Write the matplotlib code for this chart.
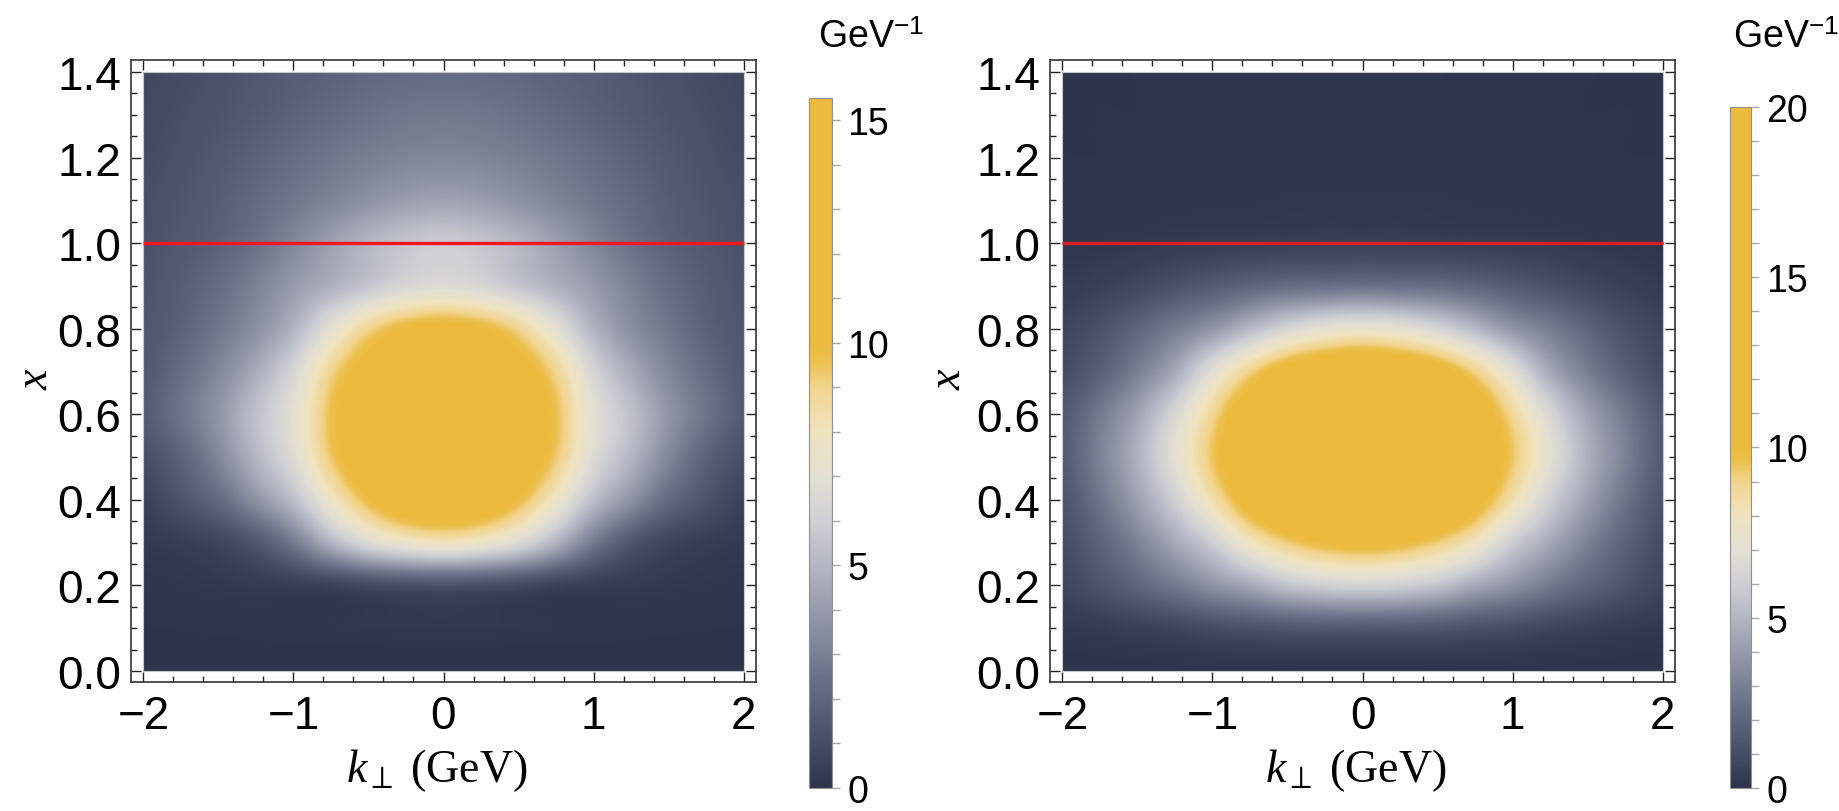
import numpy as np
import matplotlib
matplotlib.use("Agg")
import matplotlib.pyplot as plt
from matplotlib.colors import LinearSegmentedColormap, Normalize
from matplotlib.patches import Rectangle
from matplotlib.ticker import MultipleLocator

plt.rcParams['font.family'] = ['Liberation Sans', 'DejaVu Sans']
plt.rcParams['mathtext.fontset'] = 'custom'
plt.rcParams['mathtext.rm'] = 'Liberation Sans'
plt.rcParams['mathtext.it'] = 'Liberation Serif:italic'

# ---------------- data ----------------
# k_perp nodes (k >= 0, the maps are symmetric in k) and x nodes
k_half = [0.0, 0.25, 0.5, 0.75, 1.0, 1.25, 1.5, 1.75, 2.0]
x_nodes = [0.0, 0.1, 0.2, 0.3, 0.4, 0.5, 0.6, 0.7, 0.8, 0.9, 1.0, 1.1, 1.2, 1.3, 1.4]

# left panel density (GeV^-1); one row per x node, columns follow k_half
left_rows = [
    [0.0, 0.0, 0.0, 0.0, 0.0, 0.0, 0.0, 0.0, 0.0],
    [0.2, 0.2, 0.15, 0.12, 0.1, 0.08, 0.06, 0.05, 0.04],
    [1.2, 1.1, 0.9, 0.6, 0.4, 0.3, 0.2, 0.15, 0.1],
    [8.0, 7.6, 6.6, 4.9, 2.8, 1.4, 0.7, 0.4, 0.25],
    [11.6, 11.1, 9.8, 7.7, 5.3, 3.7, 2.2, 1.3, 0.6],
    [14.0, 12.3, 11.2, 9.3, 6.7, 5.0, 3.3, 1.9, 1.1],
    [15.5, 14.0, 11.5, 9.6, 7.0, 5.4, 3.8, 2.6, 1.6],
    [12.2, 11.85, 10.7, 8.9, 6.3, 4.6, 3.3, 2.3, 1.5],
    [10.4, 10.0, 8.9, 7.0, 4.9, 3.6, 2.7, 1.9, 1.4],
    [6.7, 6.4, 5.6, 4.8, 4.0, 3.1, 2.3, 1.7, 1.3],
    [5.9, 5.6, 5.0, 4.2, 3.3, 2.5, 1.9, 1.5, 1.2],
    [4.3, 4.1, 3.7, 3.2, 2.7, 2.2, 1.7, 1.35, 1.1],
    [3.3, 3.2, 3.0, 2.7, 2.3, 1.9, 1.5, 1.2, 1.0],
    [2.8, 2.7, 2.5, 2.2, 1.9, 1.6, 1.3, 1.1, 0.9],
    [2.3, 2.25, 2.1, 1.9, 1.7, 1.45, 1.2, 1.0, 0.8],
]

# right panel density (GeV^-1)
right_rows = [
    [0.0, 0.0, 0.0, 0.0, 0.0, 0.0, 0.0, 0.0, 0.0],
    [1.5, 1.5, 1.4, 1.2, 1.0, 0.7, 0.5, 0.3, 0.2],
    [6.2, 6.0, 5.5, 4.5, 3.7, 2.8, 2.0, 1.3, 0.7],
    [10.3, 10.0, 9.2, 7.9, 5.9, 4.5, 3.1, 1.9, 1.0],
    [13.4, 13.1, 12.3, 10.6, 8.3, 6.0, 4.2, 2.6, 1.3],
    [20.0, 14.2, 13.3, 11.7, 9.4, 7.0, 4.8, 3.1, 1.6],
    [13.9, 13.6, 12.8, 11.1, 8.8, 6.4, 4.3, 2.8, 1.5],
    [11.7, 11.4, 10.6, 9.0, 6.9, 4.5, 3.0, 1.8, 1.0],
    [7.4, 7.1, 6.3, 5.1, 3.8, 2.9, 2.0, 1.2, 0.7],
    [2.5, 2.4, 2.3, 2.0, 1.6, 1.2, 0.8, 0.5, 0.3],
    [0.5, 0.5, 0.45, 0.4, 0.35, 0.3, 0.2, 0.15, 0.1],
    [0.15, 0.15, 0.15, 0.12, 0.12, 0.1, 0.1, 0.08, 0.08],
    [0.1, 0.1, 0.1, 0.1, 0.1, 0.08, 0.08, 0.06, 0.06],
    [0.1, 0.1, 0.1, 0.1, 0.08, 0.08, 0.06, 0.06, 0.05],
    [0.1, 0.1, 0.1, 0.08, 0.08, 0.06, 0.06, 0.05, 0.05],
]

left_vmax = 15.5
right_vmax = 20.0
boundary_x = 1.0

x_ticks = [-2, -1, 0, 1, 2]
x_ticklabels = ["\u22122", "\u22121", "0", "1", "2"]
y_ticks = [0.0, 0.2, 0.4, 0.6, 0.8, 1.0, 1.2, 1.4]
y_ticklabels = ["0.0", "0.2", "0.4", "0.6", "0.8", "1.0", "1.2", "1.4"]
left_cbar_ticks = [0, 5, 10, 15]
right_cbar_ticks = [0, 5, 10, 15, 20]

# colour scale (absolute values, saturates above 10)
cmap_values = [0, 2.5, 5, 6, 7, 8, 9, 9.6, 10]
cmap_colors = ['#2e3449', '#6b7187', '#b3b7c3', '#cfd0d4', '#e3dfd3',
               '#efe3bf', '#f2d48e', '#ecc04d', '#ecbb3e']


def make_cmap(vmax):
    pos = [v / vmax for v in cmap_values] + [1.0]
    cols = cmap_colors + [cmap_colors[-1]]
    cm = LinearSegmentedColormap.from_list('lfwf', list(zip(pos, cols)), N=1024)
    cm.set_under(cmap_colors[0])
    cm.set_over(cmap_colors[-1])
    return cm


def mirrored(rows):
    arr = np.array(rows, dtype=float)
    return np.hstack([arr[:, :0:-1], arr])


W, H = 1839, 812
fig = plt.figure(figsize=(W / 100, H / 100), dpi=100)

k_full = [-k for k in k_half[:0:-1]] + k_half


def panel(ax_rect, cax_rect, rows, vmax, cticks, line_color, ylab_x, title_x):
    ax = fig.add_axes(ax_rect)
    Z = mirrored(rows)
    dk = k_full[1] - k_full[0]
    dx = x_nodes[1] - x_nodes[0]
    extent = [k_full[0] - dk / 2, k_full[-1] + dk / 2,
              x_nodes[0] - dx / 2, x_nodes[-1] + dx / 2]
    cm = make_cmap(vmax)
    im = ax.imshow(Z, origin='lower', extent=extent, aspect='auto', cmap=cm,
                   norm=Normalize(0, vmax), interpolation='catrom',
                   interpolation_stage='data')
    clip = Rectangle((k_full[0], x_nodes[0]), k_full[-1] - k_full[0],
                     x_nodes[-1] - x_nodes[0], transform=ax.transData)
    im.set_clip_path(clip)
    ax.add_patch(Rectangle((k_full[0], x_nodes[0]), k_full[-1] - k_full[0],
                           x_nodes[-1] - x_nodes[0], fill=False,
                           ec='#c3c7d1', lw=0.8, zorder=3))
    ax.hlines(boundary_x, k_full[0], k_full[-1], color=line_color, lw=2.4, zorder=4)

    ax.set_xlim(-2.083, 2.083)
    ax.set_ylim(-0.0257, 1.428)
    ax.set_xticks(x_ticks)
    ax.set_xticklabels(x_ticklabels)
    ax.set_yticks(y_ticks)
    ax.set_yticklabels(y_ticklabels)
    ax.xaxis.set_minor_locator(MultipleLocator(0.2))
    ax.yaxis.set_minor_locator(MultipleLocator(0.05))
    ax.tick_params(which='both', direction='in', top=True, right=True,
                   color='#222222', width=1.0)
    ax.tick_params(which='major', length=7, labelsize=33)
    ax.tick_params(axis='x', which='major', pad=9)
    ax.tick_params(axis='y', which='major', pad=7)
    ax.tick_params(which='minor', length=4)
    for s in ax.spines.values():
        s.set_linewidth(1.2)
        s.set_color('#333333')

    ax.set_xlabel(r'$k_{\perp}$ (GeV)', fontsize=33, family='Liberation Serif')
    ax.xaxis.set_label_coords(0.49, (683 - 771) / 622)
    ax.xaxis.label.set_verticalalignment('center')
    ax.set_ylabel(r'$x$', fontsize=33)
    ax.yaxis.set_label_coords(ylab_x, 0.49)
    ax.yaxis.label.set_verticalalignment('center')

    cax = fig.add_axes(cax_rect)
    cb = fig.colorbar(im, cax=cax)
    cb.set_ticks(cticks)
    cb.set_ticklabels([str(t) for t in cticks])
    cax.yaxis.set_minor_locator(MultipleLocator(1))
    cax.tick_params(which='both', direction='out', color='#a8a8a8', width=1.0)
    cax.tick_params(which='major', length=6, labelsize=27, pad=5)
    cax.tick_params(which='minor', length=6)
    cb.outline.set_edgecolor('#909090')
    cb.outline.set_linewidth(0.8)
    fig.text(title_x, 1 - 38 / H, r'GeV$^{-1}$', fontsize=27, ha='left', va='center')
    return ax


panel([131 / W, (H - 683) / H, 625 / W, 622 / H],
      [809 / W, (H - 789) / H, 23 / W, 690 / H],
      left_rows, left_vmax, left_cbar_ticks, '#f2161b', -0.154, 818 / W)
panel([1050 / W, (H - 683) / H, 625 / W, 622 / H],
      [1730 / W, (H - 789) / H, 21 / W, 681 / H],
      right_rows, right_vmax, right_cbar_ticks, '#d81f26', -0.163, 1733 / W)

fig.savefig('out.png', dpi=100, facecolor='white')
